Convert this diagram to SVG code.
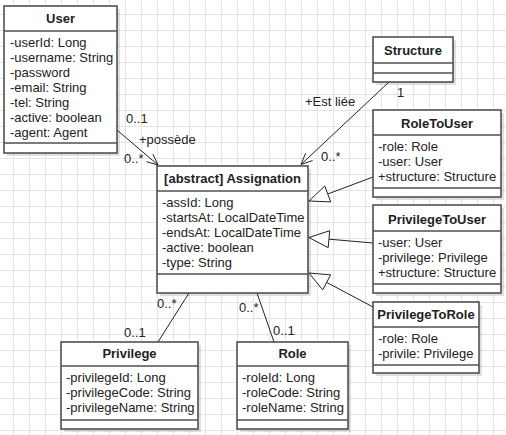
<svg xmlns="http://www.w3.org/2000/svg" width="506" height="435" viewBox="0 0 506 435">
<style>
.box{fill:#fff;stroke:#505050;stroke-width:1.6}
.sep{stroke:#505050;stroke-width:1.6}
.sh{fill:#000;opacity:0.12}
.t{font-family:"Liberation Sans",Arial,sans-serif;font-size:13px;fill:#222}
.h{font-family:"Liberation Sans",Arial,sans-serif;font-size:13px;font-weight:bold;fill:#222;text-anchor:middle}
.ln{stroke:#222;stroke-width:1;fill:none}
.tri{stroke:#222;stroke-width:1;fill:#fff}
</style>
<defs>
<pattern id="grid" x="13" y="14" width="16" height="16" patternUnits="userSpaceOnUse">
<path d="M0.5 0 V16 M0 0.5 H16" stroke="#e4e4e4" stroke-width="1" fill="none"/>
</pattern>
</defs>
<rect width="506" height="435" fill="#fff"/>
<rect width="506" height="435" fill="url(#grid)"/>

<g id="connectors">
<path class="ln" d="M117 130 L158 165"/>
<path class="ln" d="M146.4 161.7 L158 165 L152.9 154.1"/>
<path class="ln" d="M389 82 L301 164.5"/>
<path class="ln" d="M305.6 153.3 L301 164.5 L312.5 160.6"/>
<path class="ln" d="M373 177 L327.7 194"/>
<path class="tri" d="M309 201 L330.7 201.9 L324.8 186 Z"/>
<path class="ln" d="M373 243 L328.9 239.2"/>
<path class="tri" d="M309 237.5 L328.2 247.7 L329.7 230.7 Z"/>
<path class="ln" d="M373 307 L326.7 282.4"/>
<path class="tri" d="M309 273 L322.7 289.9 L330.6 274.9 Z"/>
<path class="ln" d="M189 293 L158 342"/>
<path class="ln" d="M257 293 L274 342"/>
<text class="t" x="126" y="123">0..1</text>
<text class="t" x="139" y="144">+possède</text>
<text class="t" x="124" y="163">0..*</text>
<text class="t" x="305" y="106">+Est liée</text>
<text class="t" x="397" y="97">1</text>
<text class="t" x="321" y="161">0..*</text>
<text class="t" x="157" y="308">0..*</text>
<text class="t" x="124" y="337">0..1</text>
<text class="t" x="239" y="312">0..*</text>
<text class="t" x="273" y="335">0..1</text>
</g>

<g id="User">
<rect class="sh" x="7" y="9" width="113" height="147"/>
<rect class="box" x="4" y="6" width="113" height="147"/>
<line class="sep" x1="4" y1="31" x2="117" y2="31"/>
<line class="sep" x1="4" y1="143" x2="117" y2="143"/>
<text class="h" x="60.5" y="23">User</text>
<text class="t" x="10" y="46.5">-userId: Long</text>
<text class="t" x="10" y="61.5">-username: String</text>
<text class="t" x="10" y="76.5">-password</text>
<text class="t" x="10" y="91.5">-email: String</text>
<text class="t" x="10" y="106.5">-tel: String</text>
<text class="t" x="10" y="121.5">-active: boolean</text>
<text class="t" x="10" y="136.5">-agent: Agent</text>
</g>

<g id="Assignation">
<rect class="sh" x="160" y="169" width="151" height="127"/>
<rect class="box" x="157" y="166" width="151" height="127"/>
<line class="sep" x1="157" y1="191" x2="308" y2="191"/>
<line class="sep" x1="157" y1="274" x2="308" y2="274"/>
<text class="h" x="232.5" y="183">[abstract] Assignation</text>
<text class="t" x="162" y="206.5">-assId: Long</text>
<text class="t" x="162" y="221.5">-startsAt: LocalDateTime</text>
<text class="t" x="162" y="236.5">-endsAt: LocalDateTime</text>
<text class="t" x="162" y="251.5">-active: boolean</text>
<text class="t" x="162" y="266.5">-type: String</text>
</g>

<g id="Structure">
<rect class="sh" x="376" y="40" width="80" height="45"/>
<rect class="box" x="373" y="37" width="80" height="45"/>
<line class="sep" x1="373" y1="63" x2="453" y2="63"/>
<line class="sep" x1="373" y1="73" x2="453" y2="73"/>
<text class="h" x="413" y="55">Structure</text>
</g>

<g id="RoleToUser">
<rect class="sh" x="376" y="113" width="128" height="87"/>
<rect class="box" x="373" y="110" width="128" height="87"/>
<line class="sep" x1="373" y1="135" x2="501" y2="135"/>
<line class="sep" x1="373" y1="188" x2="501" y2="188"/>
<text class="h" x="437" y="127.5">RoleToUser</text>
<text class="t" x="378" y="150.5">-role: Role</text>
<text class="t" x="378" y="165.5">-user: User</text>
<text class="t" x="378" y="180.5">+structure: Structure</text>
</g>

<g id="PrivilegeToUser">
<rect class="sh" x="376" y="208" width="128" height="88"/>
<rect class="box" x="373" y="205" width="128" height="88"/>
<line class="sep" x1="373" y1="231" x2="501" y2="231"/>
<line class="sep" x1="373" y1="284" x2="501" y2="284"/>
<text class="h" x="437" y="223.5">PrivilegeToUser</text>
<text class="t" x="378" y="246.5">-user: User</text>
<text class="t" x="378" y="261.5">-privilege: Privilege</text>
<text class="t" x="378" y="276.5">+structure: Structure</text>
</g>

<g id="PrivilegeToRole">
<rect class="sh" x="376" y="305" width="106" height="71"/>
<rect class="box" x="373" y="302" width="106" height="71"/>
<line class="sep" x1="373" y1="327" x2="479" y2="327"/>
<line class="sep" x1="373" y1="365" x2="479" y2="365"/>
<text class="h" x="426" y="319">PrivilegeToRole</text>
<text class="t" x="378" y="342.5">-role: Role</text>
<text class="t" x="378" y="357.5">-privile: Privilege</text>
</g>

<g id="Privilege">
<rect class="sh" x="64" y="345" width="137" height="87"/>
<rect class="box" x="61" y="342" width="137" height="87"/>
<line class="sep" x1="61" y1="366" x2="198" y2="366"/>
<line class="sep" x1="61" y1="420" x2="198" y2="420"/>
<text class="h" x="129.5" y="358">Privilege</text>
<text class="t" x="66" y="381.5">-privilegeId: Long</text>
<text class="t" x="66" y="396.5">-privilegeCode: String</text>
<text class="t" x="66" y="411.5">-privilegeName: String</text>
</g>

<g id="Role">
<rect class="sh" x="240" y="345" width="111" height="87"/>
<rect class="box" x="237" y="342" width="111" height="87"/>
<line class="sep" x1="237" y1="366" x2="348" y2="366"/>
<line class="sep" x1="237" y1="420" x2="348" y2="420"/>
<text class="h" x="292.5" y="358">Role</text>
<text class="t" x="242" y="381.5">-roleId: Long</text>
<text class="t" x="242" y="396.5">-roleCode: String</text>
<text class="t" x="242" y="411.5">-roleName: String</text>
</g>
</svg>
